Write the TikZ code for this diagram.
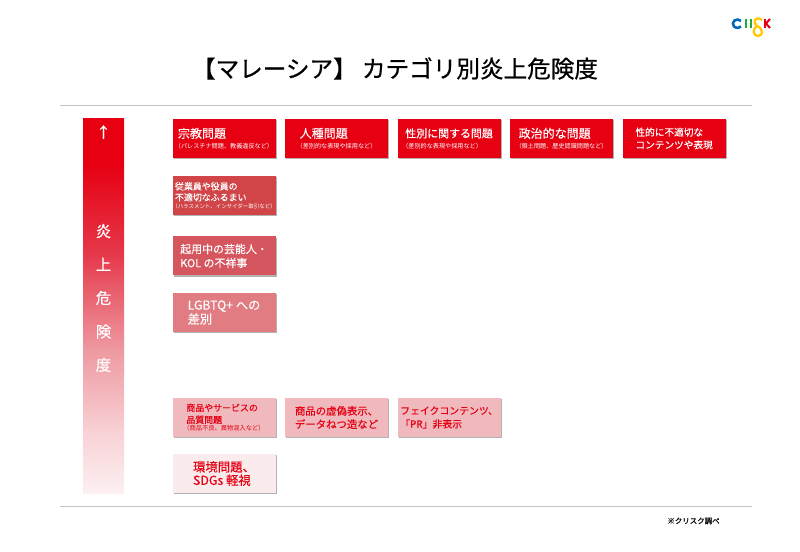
\documentclass[tikz,border=0pt]{standalone}
\usepackage{fontspec}
\setmainfont[FakeBold=0.35,BoldFont={Noto Sans CJK JP}]{Noto Sans CJK JP}
\newfontfamily\titlefont[FakeBold=0.7]{Noto Sans CJK JP}
\newfontfamily\thinfont{Noto Sans CJK JP}
\usetikzlibrary{shadows}

\definecolor{clickred}{HTML}{E60012}
\definecolor{risktwo}{HTML}{D14549}
\definecolor{riskthree}{HTML}{D5565E}
\definecolor{riskfour}{HTML}{E07C82}
\definecolor{riskfive}{HTML}{EFB9BD}
\definecolor{risksix}{HTML}{FAEBEC}
\definecolor{rulegray}{HTML}{C4C4C4}
\definecolor{barmid}{HTML}{E5384A}
\definecolor{barlow}{HTML}{EE9AA2}
\definecolor{barpale}{HTML}{F8D2D6}
\definecolor{barend}{HTML}{FCF0F1}
\definecolor{logoblue}{HTML}{0068B7}
\definecolor{logogreen}{HTML}{22AC38}
\definecolor{logoyellow}{HTML}{FFC800}
\pgfdeclareverticalshading{barfade}{100bp}{color(0bp)=(barend); color(25bp)=(barend); color(33bp)=(barpale); color(44bp)=(barlow); color(57bp)=(barmid); color(69bp)=(clickred); color(100bp)=(clickred)}
\newcommand{\subnote}[2]{{\thinfont\fontsize{#1}{6}\selectfont\kern-.5em #2\kern-.5em}}

\begin{document}
\begin{tikzpicture}[x=0.75pt,y=-0.75pt,node distance=84.4pt,
    riskbox/.style={minimum width=77.25pt,minimum height=29.25pt,inner sep=0pt,align=left,
        drop shadow={shadow xshift=0.8pt,shadow yshift=-0.8pt,opacity=0.3,fill=black}},
    hotbox/.style={riskbox,text=white},
    coolbox/.style={riskbox,text=clickred},
    rule/.style={draw=rulegray,line width=0.7pt}]

    \useasboundingbox (0,0) rectangle (800,552);

    \node[font=\titlefont\fontsize{17.7}{20}\selectfont] (title) at (395,68.5) {【マレーシア】 カテゴリ別炎上危険度};

    % logo
    \draw[logoblue,line width=1.9pt] (741,21) arc (-40:-320:4.6 and 4.2);
    \draw[logogreen,line width=1.7pt] (746,19) -- (746,28);
    \draw[logogreen,line width=1.7pt] (751,19) -- (751,28);
    \draw[logoyellow,line width=1.7pt] (762,20) .. controls (755,15) and (752,23) .. (757,26) .. controls (764,29) and (763,36) .. (758,36) .. controls (753,36) and (752,29) .. (757,26);
    \draw[clickred,line width=1.7pt] (765,19) -- (765,28);
    \draw[clickred,line width=1.5pt] (770,19) -- (766,23.5) -- (770,28);

    \coordinate (topleft) at (60,105);
    \coordinate (topright) at (752,105);
    \coordinate (botleft) at (60,506);
    \coordinate (botright) at (752,506);
    \draw[rule] (topleft) -- (topright);
    \draw[rule] (botleft) -- (botright);

    \node[shading=barfade,minimum width=30.75pt,minimum height=280.5pt,inner sep=0pt] (bar) at (103.5,306) {};
    \node[text=white,font=\fontsize{11}{11}\selectfont] (uparrow) at (103.5,132) {↑};
    \node[text=white,font=\fontsize{11.5}{25.1}\selectfont,align=center] (barlabel) at (103.5,298) {炎\\上\\危\\険\\度};

    \node[hotbox,fill=clickred] (religion) at (224,138.5) {{\fontsize{9}{11}\selectfont 宗教問題}\\[-4pt]\subnote{4.6}{（パレスチナ問題、教義違反など）}};
    \node[hotbox,fill=clickred] (race) [right of = religion] {{\fontsize{9}{11}\selectfont 人種問題}\\[-4pt]\subnote{4.6}{（差別的な表現や採用など）}};
    \node[hotbox,fill=clickred] (gender) [right of = race] {{\fontsize{8.2}{11}\selectfont 性別に関する問題}\\[-4pt]\subnote{4.6}{（差別的な表現や採用など）}};
    \node[hotbox,fill=clickred] (politics) [right of = gender] {{\fontsize{9}{11}\selectfont 政治的な問題}\\[-4pt]\subnote{4.6}{（領土問題、歴史認識問題など）}};
    \node[hotbox,fill=clickred,font=\fontsize{7.25}{9.5}\selectfont] (sexual) [right of = politics] {性的に不適切な\\コンテンツや表現};

    \node[hotbox,fill=risktwo] (staff) at (224,195.5) {{\fontsize{6.7}{9}\selectfont 従業員や役員の}\\[-3.75pt]{\fontsize{6.7}{9}\selectfont 不適切なふるまい}\\[-6.3pt]\subnote{4.1}{（ハラスメント、インサイダー取引など）}};
    \node[hotbox,fill=riskthree,font=\fontsize{8.2}{10.5}\selectfont] (talent) at (224,256) {起用中の芸能人・\\KOL の不祥事};
    \node[hotbox,fill=riskfour,font=\fontsize{9.2}{10.5}\selectfont] (lgbtq) at (224,312.5) {LGBTQ+ への\\差別};

    \node[coolbox,fill=riskfive] (quality) at (224,417.5) {{\fontsize{6.7}{9}\selectfont 商品やサービスの}\\[-3pt]{\fontsize{6.7}{9}\selectfont 品質問題}\\[-6.3pt]\subnote{4.7}{（商品不良、異物混入など）}};
    \node[coolbox,fill=riskfive,font=\fontsize{7.8}{10}\selectfont] (fraud) [right of = quality] {商品の虚偽表示、\\データねつ造など};
    \node[coolbox,fill=riskfive,font=\fontsize{7.4}{10}\selectfont] (fake) [right of = fraud] {フェイクコンテンツ、\\「PR」非表示};
    \node[coolbox,fill=risksix,font=\fontsize{9.3}{10}\selectfont] (green) at (224,473.5) {環境問題、\\SDGs 軽視};

    \node[font=\fontsize{5.6}{7}\selectfont] (source) at (693.5,521) {※クリスク調べ};
\end{tikzpicture}
\end{document}
